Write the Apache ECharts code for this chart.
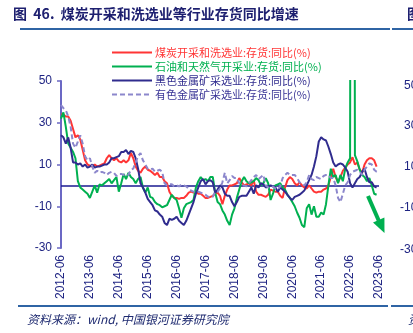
<!DOCTYPE html>
<html><head><meta charset="utf-8">
<script src="https://cdn.jsdelivr.net/npm/echarts@6/dist/echarts.min.js"></script>
<style>html,body{margin:0;padding:0;background:#fff}#c{width:413px;height:333px}</style>
</head><body><div id="c"></div>
<script>
// ---- data ----
const startYear = 2012, startMonth = 6, monthCount = 133; // 2012-06 .. 2023-06
const categories = [];
for (let k = 0; k < monthCount; k++) {
  const m = startMonth - 1 + k;
  const y = startYear + Math.floor(m / 12);
  const mm = (m % 12) + 1;
  categories.push(y + '-' + (mm < 10 ? '0' + mm : '' + mm));
}
const seriesNames = ['煤炭开采和洗选业:存货:同比(%)', '石油和天然气开采业:存货:同比(%)', '黑色金属矿采选业:存货:同比(%)', '有色金属矿采选业:存货:同比(%)'];
const coal = [34,34,33,33,31,27,23,24,22,17,12,10,
  9.5,9,10,9,9.5,10,10.5,13,14.5,13,12,13,
  11.5,11,12,11,12,15.5,13,9,7,6,8,9,
  7.5,7,6,5,6,4,4,2,1,-3,-5,-6,
  -6,-6.5,-6,-6,-5,-3.5,-3,-3.5,-3,-4,-4,-5,
  -6,-6,-5.5,-5,-4,-3.5,-5,-9,-5,-2,0,0,
  0.5,1,3.5,1.5,0,0.5,1,0,2.5,-3,-4.5,-4.5,
  -5,-5.5,-4.5,-2,-2.5,-3,-3,-5,-6,-1,2.5,4,
  3,1,0,1.5,0,-1,-1.5,0,-1.5,-3,-3.5,-3,
  -3,-2,-1.5,0,4,8,4,1.5,4,7,8.5,10,
  11,13.5,10,11,7.5,6,10,12,13,13,12,9];
const oil = [32,35,28,20,18,16,13,2,-1,-2,-3,-4,
  -6,-3,0,-3.5,0.5,0,1,2,3,1,2.5,4,
  -3,1,5.5,3,6,4,3,1,3,4,-1,-3.5,
  -1,-5.5,-6,-8,-9,-9.5,-10.5,-10,-9.5,-7,-4.5,-6,
  -7,-11,-15.5,-11,-9,-8.5,-8,-7,-1,2,4,2.5,
  3,2,4,4,-3.5,-8,-9,-12,-14,-17,-19,-14,
  -11,-6,-2,2,4,2,1,1.5,2,3.5,2.5,0,
  1,3.5,1,-7,-4,0,0.5,1,-1,-2,-4.5,-6,
  -8,-10,-13,-15.5,-19,-20,-11,-9,-14,-10,-15,-15,
  -13,-14,-9,0,8,4,5,1,5,2,8,11,
  13,800,14.5,11.5,7.5,5,4,2,3.5,0,-4,-4.5];
const ferrous = [24,23,20,23,18,11,11,10,10.5,9,10,8.5,
  9,10,8.5,9,9,9.5,10,10,11,13,13,13.5,
  14,16,16,17,15,16.5,16,13,8,1,-1,-3.5,
  -6.5,-8,-9.5,-12,-12.5,-14,-15,-18,-19,-16,-16.5,-16,
  -15,-17,-18,-19,-17,-14,-11,-8,-4,-1,2,3,
  0.5,2,2.5,1.5,-3.5,-2,0,-1,-4,-5,-5,-8,
  -10,-8,-5.5,-5,-5,-5,-3,-1,-4,0,-1,1,
  0.5,-1,-0.5,0,-0.5,-1,-3,-1,-2,-3,-4.5,-6,
  -7,-5.5,-5,-4.5,-3.5,-2.5,0,2.5,5,9,14,21,
  23,22,21.5,18.5,15,11,9,10,10.5,10,8.5,6.5,
  1,-1,1,3,4,6.5,8,4,1.5,1.5,-0.5,-1];
const nonferrous = [38.5,37,36,33,28,20,18,21,24,20,14,12,
  13,9,6,7,6,6.5,6,5,6,6.5,6,4.5,
  5.5,5.5,5,4.5,5,7.5,8,11,14,15.5,12,10,
  8,7.5,8,6.5,7,7.5,6.5,1,0,0.5,0.5,-0.5,
  0,-0.5,0.5,0,-0.5,-1.5,-2.5,-3,-3,-3,-3.5,-4,
  -4.5,-5.5,-5.5,-5.5,-3,-3,-1.5,1.5,6,1,2.5,4.5,
  3.5,3.5,1,0,0,-0.5,1,2.5,4,5,3,4,
  5,0,-1,-1,-0.5,-1.5,-2,-0.5,3.5,5,6,5,
  5,5,3.5,1.5,0.5,0,1.5,5,3,2.5,4,3.5,
  3,4.5,5,5,3.5,3.5,0,-6,-8,-4,0,1.5,
  5,6.5,7,7.5,6.5,5,7.5,9,10.5,10,7.5,6.5,6];
const yMin = -30, yMax = 50, yStep = 20;
const seriesColors = ['#FF3535', '#00B050', '#302C8E', '#8C87CC'];
const legendTextColors = ['#FF3535', '#00B050', '#302C8E', '#3A3596'];

// ---- chart ----
const chart = echarts.init(document.getElementById('c'), null, {renderer: 'canvas'});
const navy = '#1F2483';
const mkSeries = (i, data, dashed) => ({
  name: seriesNames[i], type: 'line', data: data, showSymbol: false, symbol: 'none',
  clip: true, z: 3 + i,
  lineStyle: {color: seriesColors[i], width: 2, type: dashed ? [5, 3] : 'solid'},
  itemStyle: {color: seriesColors[i]}
});
const s0 = mkSeries(0, coal);
s0.markLine = {silent: true, symbol: 'none', label: {show: false}, z: 1,
  lineStyle: {color: '#1A1A90', width: 1.5, type: 'solid'}, data: [{yAxis: 0}]};
chart.setOption({
  animation: false,
  backgroundColor: '#fff',
  grid: {left: 61, right: 34, top: 81, bottom: 85, containLabel: false},
  legend: {
    orient: 'vertical', left: 106, top: 42, itemWidth: 40, itemHeight: 10, itemGap: 3,
    itemStyle: {opacity: 0},
    textStyle: {fontSize: 11, fontFamily: 'Noto Sans CJK SC', padding: [0, 0, 0, -2]},
    data: seriesNames.map((n, i) => ({name: n, textStyle: {color: legendTextColors[i]}}))
  },
  xAxis: {
    type: 'category', data: categories, boundaryGap: false,
    axisLine: {show: false, onZero: false}, axisTick: {show: false},
    axisLabel: {interval: 11, rotate: 90, color: navy, fontSize: 12, fontFamily: 'Liberation Sans', margin: 7},
    splitLine: {show: false}
  },
  yAxis: {
    type: 'value', min: yMin, max: yMax, interval: yStep,
    axisLine: {show: true, lineStyle: {color: '#6B68C4', width: 2}},
    axisTick: {show: true, length: 4, lineStyle: {color: '#6B68C4', width: 1.5}},
    axisLabel: {color: navy, fontSize: 12, fontFamily: 'Liberation Sans', margin: 9},
    splitLine: {show: false}
  },
  series: [s0, mkSeries(1, oil), mkSeries(2, ferrous), mkSeries(3, nonferrous, true)],
  graphic: [
    {type: 'text', left: 13, top: 7, style: {text: '图  46.  煤炭开采和洗选业等行业存货同比增速', fill: '#1E2070', font: 'bold 14px "Noto Sans CJK SC"'}},
    {type: 'text', left: 407, top: 7, style: {text: '图', fill: '#1E2070', font: 'bold 14px "Noto Sans CJK SC"'}},
    {type: 'rect', shape: {x: 20, y: 28, width: 370, height: 2}, style: {fill: '#2F64A4'}},
    {type: 'rect', shape: {x: 392, y: 28, width: 21, height: 2}, style: {fill: '#2F64A4'}},
    {type: 'rect', shape: {x: 18, y: 305, width: 370, height: 2}, style: {fill: '#2F64A4'}},
    {type: 'rect', shape: {x: 391, y: 305, width: 22, height: 2}, style: {fill: '#2F64A4'}},
    {type: 'text', left: 27, top: 313, style: {text: '资料来源：wind, 中国银河证券研究院', fill: '#1E2A70', font: 'italic 12px "Noto Sans CJK SC"'}},
    {type: 'text', left: 408, top: 313, style: {text: '资', fill: '#1E2A70', font: 'italic 12px "Noto Sans CJK SC"'}},
    {type: 'text', left: 404, top: 80, style: {text: '50', fill: navy, font: '12px "Liberation Sans"'}},
    {type: 'text', left: 404, top: 120, style: {text: '30', fill: navy, font: '12px "Liberation Sans"'}},
    {type: 'text', left: 404, top: 161, style: {text: '10', fill: navy, font: '12px "Liberation Sans"'}},
    {type: 'text', left: 400, top: 202, style: {text: '-10', fill: navy, font: '12px "Liberation Sans"'}},
    {type: 'text', left: 400, top: 244, style: {text: '-30', fill: navy, font: '12px "Liberation Sans"'}},
    {type: 'line', shape: {x1: 368, y1: 196, x2: 378.7, y2: 220.5}, style: {stroke: '#00B050', lineWidth: 4}},
    {type: 'polygon', shape: {points: [[384.5, 233], [384.4, 217.4], [373, 222.5]]}, style: {fill: '#00B050'}}
  ]
});
</script></body></html>
